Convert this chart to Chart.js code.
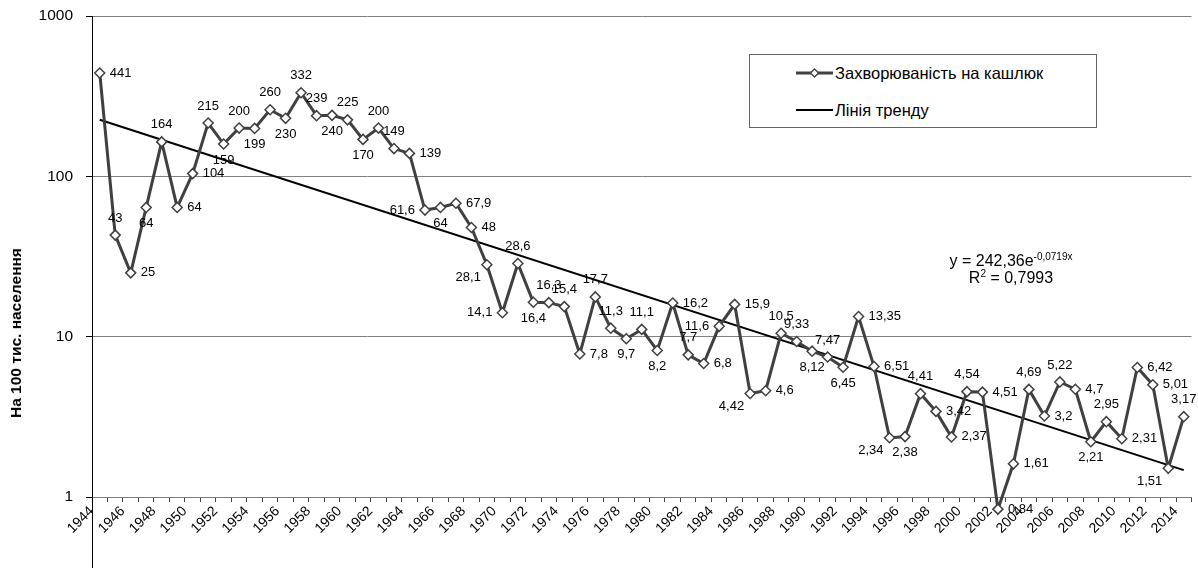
<!DOCTYPE html>
<html>
<head>
<meta charset="utf-8">
<script src="https://cdn.jsdelivr.net/npm/chart.js@4/dist/chart.umd.min.js"></script>
<style>
  html, body { margin: 0; padding: 0; background: #fff; }
  #wrap { position: relative; width: 1198px; height: 568px; font-family: "Liberation Sans", Arial, sans-serif; }
  #chart { position: absolute; left: 0; top: 0; }
  .ytitle {
    position: absolute; left: 16px; top: 333px;
    transform: translate(-50%, -50%) rotate(-90deg);
    white-space: nowrap; font-weight: bold; font-size: 15.5px; color: #000;
  }
  .legend {
    position: absolute; left: 749px; top: 54px; width: 346px; height: 72px;
    border: 1px solid #666; background: #fff; font-size: 16.5px; color: #000;
  }
  .legend .row { position: absolute; left: 46px; height: 20px; display: flex; align-items: center; }
  .legend svg { margin-right: 2px; }
  .eq { position: absolute; left: 911px; top: 252px; width: 200px; text-align: center; font-size: 16px; line-height: 17px; color: #000; }
  .eq sup { font-size: 10px; vertical-align: 6px; line-height: 0; }
</style>
</head>
<body>
<div id="wrap">
  <canvas id="chart" width="1198" height="568"></canvas>
  <div class="ytitle">На 100 тис. населення</div>
  <div class="legend">
    <div class="row" style="top:8px">
      <svg width="37" height="12"><line x1="0" y1="6" x2="37" y2="6" stroke="#404040" stroke-width="3"/><polygon points="18.5,2 22.5,6 18.5,10 14.5,6" fill="#fff" stroke="#404040" stroke-width="1.3"/></svg>Захворюваність на кашлюк
    </div>
    <div class="row" style="top:45px">
      <svg width="37" height="12"><line x1="0" y1="6" x2="37" y2="6" stroke="#000" stroke-width="2"/></svg>Лінія тренду
    </div>
  </div>
  <div class="eq">y = 242,36e<sup>-0,0719x</sup><br>R<sup>2</sup> = 0,7993</div>
</div>
<script>
// роки
const years = ['1944','1945','1946','1947','1948','1949','1950','1951','1952','1953',
  '1954','1955','1956','1957','1958','1959','1960','1961','1962','1963',
  '1964','1965','1966','1967','1968','1969','1970','1971','1972','1973',
  '1974','1975','1976','1977','1978','1979','1980','1981','1982','1983',
  '1984','1985','1986','1987','1988','1989','1990','1991','1992','1993',
  '1994','1995','1996','1997','1998','1999','2000','2001','2002','2003',
  '2004','2005','2006','2007','2008','2009','2010','2011','2012','2013','2014'];

// захворюваність на 100 тис.
const cases = [441, 43, 25, 64, 164, 64, 104, 215, 159, 200,
  199, 260, 230, 332, 239, 240, 225, 170, 200, 149,
  139, 61.6, 64, 67.9, 48, 28.1, 14.1, 28.6, 16.4, 16.3,
  15.4, 7.8, 17.7, 11.3, 9.7, 11.1, 8.2, 16.2, 7.7, 6.8,
  11.6, 15.9, 4.42, 4.6, 10.5, 9.33, 8.12, 7.47, 6.45, 13.35,
  6.51, 2.34, 2.38, 4.41, 3.42, 2.37, 4.54, 4.51, 0.84, 1.61,
  4.69, 3.2, 5.22, 4.7, 2.21, 2.95, 2.31, 6.42, 5.01, 1.51, 3.17];

// лінія тренду: значення на початку і в кінці
const trendStart = 225.5;
const trendEnd = 1.47;

const yTicks = [1, 10, 100, 1000];

// де стоїть підпис значення: r, l, t, b, bl
const labelPos = ['r','t','r','b','t','r','r','t','b','t',
  'b','t','b','t','t','b','t','b','t','t',
  'r','l','b','r','r','bl','l','t','b','t',
  't','r','t','t','b','t','b','r','t','r',
  'l','r','bl','r','t','t','b','t','b','r',
  'r','bl','b','t','r','r','t','r','r','r',
  't','r','t','r','b','t','r','r','r','bl','t'];

const trendData = years.map((y, i) => i === 0 ? trendStart : (i === years.length - 1 ? trendEnd : null));

const FONT = '"Liberation Sans", Arial, sans-serif';

const valueLabels = {
  id: 'valueLabels',
  afterDatasetsDraw(chart) {
    const ctx = chart.ctx;
    const meta = chart.getDatasetMeta(0);
    const ca = chart.chartArea;
    const whole = { left: 0, top: 0, right: chart.width, bottom: chart.height };
    ctx.save();
    // маркери, що вийшли за межі області (0,84)
    meta.data.forEach(pt => {
      if (pt.y > ca.bottom || pt.y < ca.top) pt.draw(ctx, whole);
    });
    ctx.font = '13px ' + FONT;
    ctx.fillStyle = '#000';
    meta.data.forEach((pt, i) => {
      const txt = String(cases[i]).replace('.', ',');
      let x = pt.x, y = pt.y;
      switch (labelPos[i]) {
        case 'r': x += 10; ctx.textAlign = 'left'; ctx.textBaseline = 'middle'; break;
        case 'l': x -= 10; ctx.textAlign = 'right'; ctx.textBaseline = 'middle'; break;
        case 't': y -= 17; ctx.textAlign = 'center'; ctx.textBaseline = 'middle'; break;
        case 'b': y += 16; ctx.textAlign = 'center'; ctx.textBaseline = 'middle'; break;
        case 'bl': x -= 6; y += 13; ctx.textAlign = 'right'; ctx.textBaseline = 'middle'; break;
      }
      ctx.fillText(txt, x, y);
    });
    ctx.restore();
  }
};

// вісь Y продовжується вниз до краю
const axisTail = {
  id: 'axisTail',
  afterDraw(chart) {
    const { ctx, chartArea } = chart;
    ctx.save();
    ctx.strokeStyle = '#000';
    ctx.lineWidth = 1;
    ctx.beginPath();
    ctx.moveTo(Math.round(chartArea.left) + 0.5, chartArea.bottom);
    ctx.lineTo(Math.round(chartArea.left) + 0.5, chart.height);
    ctx.stroke();
    ctx.restore();
  }
};

new Chart(document.getElementById('chart'), {
  type: 'line',
  data: {
    labels: years,
    datasets: [
      {
        label: 'Захворюваність на кашлюк',
        data: cases,
        clip: false,
        borderColor: '#404040',
        borderWidth: 3,
        pointStyle: 'rectRot',
        pointRadius: 5,
        pointBackgroundColor: '#fff',
        pointBorderColor: '#404040',
        pointBorderWidth: 1.5
      },
      {
        label: 'Лінія тренду',
        data: trendData,
        spanGaps: true,
        borderColor: '#000',
        borderWidth: 2,
        pointRadius: 0
      }
    ]
  },
  options: {
    responsive: false,
    animation: false,
    devicePixelRatio: 1,
    layout: { padding: { top: 16, right: 0, left: 0, bottom: 0 } },
    plugins: {
      legend: { display: false },
      tooltip: { enabled: false }
    },
    scales: {
      x: {
        offset: true,
        afterFit: s => { s.height = 71; s.paddingTop = 0; },
        grid: { drawOnChartArea: false, drawTicks: true, tickLength: 5, tickColor: '#404040', offset: true },
        border: { color: '#808080' },
        ticks: {
          autoSkip: false,
          minRotation: 45,
          maxRotation: 45,
          padding: 1,
          labelOffset: -8,
          color: '#000',
          font: { size: 14, family: FONT },
          callback: (v, i) => i % 2 === 0 ? years[i] : ''
        }
      },
      y: {
        type: 'logarithmic',
        min: 1,
        max: 1000,
        afterFit: s => { s.width = 92; s.paddingTop = 0; s.paddingBottom = 0; },
        afterBuildTicks: s => { s.ticks = yTicks.map(v => ({ value: v })); },
        grid: { color: '#808080', tickColor: '#000', tickLength: 6 },
        border: { color: '#000' },
        ticks: {
          padding: 13,
          color: '#000',
          font: { size: 15.5, family: FONT },
          callback: v => String(v)
        }
      }
    }
  },
  plugins: [valueLabels, axisTail]
});
</script>
</body>
</html>
